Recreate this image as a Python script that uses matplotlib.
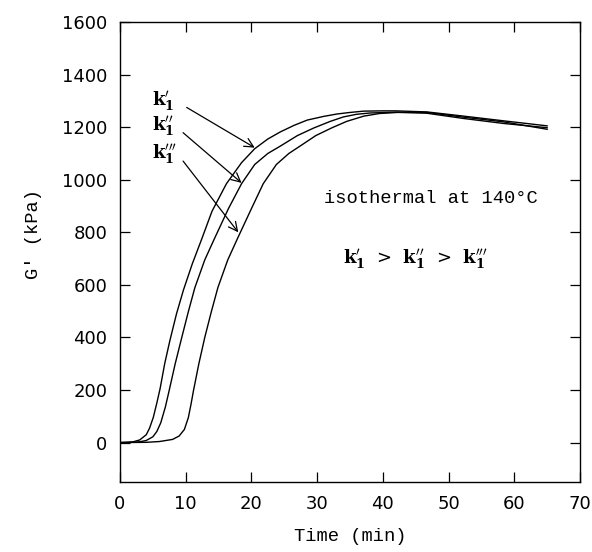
import matplotlib
matplotlib.use("Agg")
from matplotlib import pyplot as plt

# G' (kPa) vs time (min)
t_1 = [0, 1, 2, 3, 4, 4.5, 5.07, 5.6, 6.1, 6.8, 7.6, 8.6, 9.65, 11, 12.4, 14,
       16.2, 18.5, 20.5, 22.5, 24.4, 26.5, 28.5, 31, 33, 35, 37.1, 40, 42,
       46.7, 52.3, 58.4, 65]
g_1 = [0, 1, 3, 10, 30, 55, 96, 150, 205, 300, 389, 490, 580, 680, 772, 880,
       985, 1065, 1118, 1155, 1182, 1207, 1227, 1241, 1250, 1256, 1261, 1262,
       1262, 1258, 1242, 1224, 1205]

t_2 = [0, 2, 3, 4, 5, 5.6, 6.2, 6.9, 7.5, 8.4, 9.4, 10.4, 11.4, 12.9, 14.3,
       16.5, 18.5, 20.5, 22.5, 24.4, 27, 29.5, 32, 34, 36, 38.1, 42, 46.7,
       52.3, 58.4, 65]
g_2 = [0, 1, 3, 8, 22, 42, 75, 135, 200, 300, 400, 498, 590, 695, 772, 890,
       985, 1058, 1100, 1128, 1168, 1197, 1222, 1239, 1249, 1254, 1257, 1253,
       1233, 1214, 1198]

t_3 = [0, 4, 6, 8, 9, 9.8, 10.4, 10.8, 11.2, 12, 12.9, 13.9, 14.9, 16.4,
       17.8, 20, 21.8, 23.8, 25.7, 27.4, 29.8, 32.2, 34.5, 37.1, 39.5, 42.2,
       46.7, 52.3, 58.4, 65]
g_3 = [0, 1, 4, 12, 25, 50, 95, 145, 200, 300, 400, 498, 590, 695, 772, 890,
       985, 1058, 1100, 1128, 1168, 1197, 1222, 1242, 1252, 1256, 1256, 1238,
       1220, 1192]

labels = [r"$\mathbf{k_1^{\prime}}$", r"$\mathbf{k_1^{\prime\prime}}$",
          r"$\mathbf{k_1^{\prime\prime\prime}}$"]
label_pos = [(4.9, 1295), (4.9, 1200), (4.9, 1096)]
arrow_from = [(10.15, 1275), (9.6, 1179), (9.6, 1071)]
arrow_to = [(20.5, 1122), (18.5, 988), (18.0, 800)]

plt.rcParams["mathtext.fontset"] = "dejavuserif"
mono = "Liberation Mono"

fig = plt.figure(figsize=(5.92, 5.52), dpi=100)
ax = fig.add_axes([0.2027, 0.1268, 0.777, 0.8333])

for t, g in [(t_1, g_1), (t_2, g_2), (t_3, g_3)]:
    ax.plot(t, g, color="black", lw=1.0)

for lab, pos, a0, a1 in zip(labels, label_pos, arrow_from, arrow_to):
    ax.text(pos[0], pos[1], lab, fontsize=13, ha="left", va="center")
    ax.annotate("", xy=a1, xytext=a0,
                arrowprops=dict(arrowstyle="->", lw=0.9, color="black",
                                mutation_scale=16, shrinkA=0, shrinkB=0))

ax.text(47.3, 928, "isothermal at 140°C", family=mono, fontsize=13.5,
        ha="center", va="center")
ax.text(44.9, 695, r"$\mathbf{k_1^{\prime}}$  >  $\mathbf{k_1^{\prime\prime}}$  >  $\mathbf{k_1^{\prime\prime\prime}}$",
        fontsize=13, ha="center", va="center")

ax.set_xlim(0, 70)
ax.set_ylim(-150, 1600)
ax.set_xticks(range(0, 71, 10))
ax.set_yticks(range(0, 1601, 200))
ax.tick_params(direction="in", length=7, width=0.9, top=True, right=True,
               labelsize=13, pad=9)
for s in ax.spines.values():
    s.set_linewidth(1.0)

ax.set_xlabel("Time (min)", family=mono, fontsize=13.5)
ax.set_ylabel("G' (kPa)", family=mono, fontsize=13.5)
ax.xaxis.set_label_coords(0.5, -0.1)
ax.yaxis.set_label_coords(-0.17, 0.54)

plt.savefig("out.png", dpi=100)
